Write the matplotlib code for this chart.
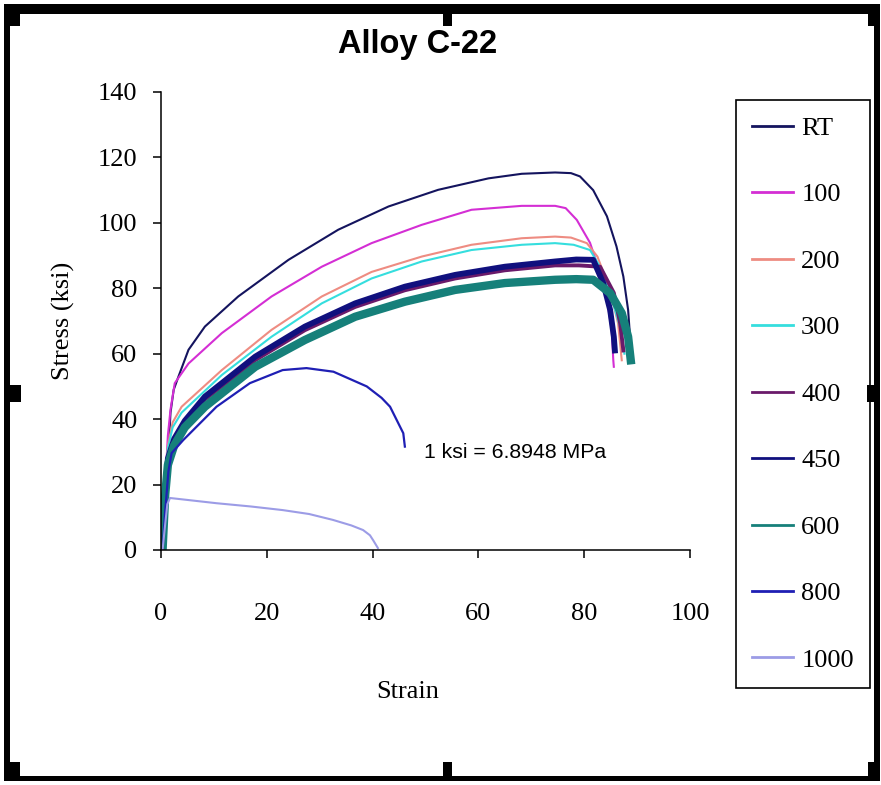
import matplotlib
matplotlib.use("Agg")
import matplotlib.pyplot as plt
from matplotlib.patches import Rectangle

# --- Data (strain %, stress ksi) ---
rt_strain = [0.5, 1.0, 1.4, 1.8, 2.4, 3.3, 5.2, 8.3, 14.6, 24.1, 33.5, 43.0, 52.4, 61.9, 68.2,
             74.5, 77.5, 79.2, 81.7, 84.3, 86.1, 87.4, 88.3, 88.8, 89.0]
rt_stress = [0, 15, 30, 42, 49, 53, 61.2, 68.3, 77.5, 88.7, 97.9, 105.0, 110.1, 113.6, 115.0,
             115.4, 115.2, 114.2, 110.0, 102.0, 92.8, 83.6, 73.4, 62.2, 58.0]

s100_strain = [0.3, 0.8, 1.3, 1.8, 2.6, 5.2, 11.5, 20.9, 30.4, 39.8, 49.3, 58.7, 68.2, 74.5,
               76.5, 78.6, 81.1, 83.0, 84.3, 85.2, 85.5, 85.6]
s100_stress = [0, 20, 35, 43, 51, 57, 66.3, 77.5, 86.6, 93.8, 99.4, 104.0, 105.2, 105.2,
               104.5, 100.9, 93.9, 84.7, 76.5, 67.3, 58.0, 56.0]

s200_strain = [0.3, 0.8, 1.3, 2.2, 3.9, 11.5, 20.9, 30.4, 39.8, 49.3, 58.7, 68.2, 74.5, 77.5,
               80.5, 82.5, 84.9, 86.4, 87.1]
s200_stress = [0, 20, 32, 39, 43.8, 55.0, 67.3, 77.5, 85.0, 89.7, 93.3, 95.3, 95.8, 95.5,
               93.8, 89.7, 79.5, 69.3, 58.0]

s300_strain = [0.3, 0.8, 1.3, 2.2, 3.9, 11.5, 20.9, 30.4, 39.8, 49.3, 58.7, 68.2, 74.5, 78.0,
               81.1, 83.0, 85.0, 86.8, 87.6]
s300_stress = [0, 20, 31, 37.5, 42.0, 53.5, 65.2, 75.4, 83.0, 88.2, 91.7, 93.3, 93.8, 93.3,
               91.7, 86.6, 78.0, 68.0, 60.0]

s400_strain = [0.3, 0.8, 1.3, 2.5, 4.5, 8.3, 17.8, 27.2, 36.7, 46.1, 55.6, 65.0, 74.5, 79.0,
               83.0, 85.6, 86.8, 87.4]
s400_stress = [0, 18, 27, 33, 38.5, 46.0, 58.0, 67.2, 74.3, 79.4, 83.0, 85.5, 87.0, 87.0,
               86.6, 78.6, 69.3, 61.0]

s450_strain = [0.3, 0.8, 1.3, 2.5, 4.5, 8.3, 17.8, 27.2, 36.7, 46.1, 55.6, 65.0, 74.5, 78.5,
               81.7, 83.6, 84.9, 85.6, 85.8]
s450_stress = [0, 18, 28, 34, 39.5, 46.9, 59.1, 68.3, 75.4, 80.5, 84.1, 86.6, 88.2, 88.8,
               88.7, 81.6, 73.4, 65.2, 61.0]

s600_strain = [0.3, 0.8, 1.3, 2.5, 4.5, 8.3, 17.8, 27.2, 36.7, 46.1, 55.6, 65.0, 74.5, 78.5,
               81.7, 84.9, 87.1, 88.3, 88.8]
s600_stress = [0, 17, 26, 32, 37.5, 43.8, 56.0, 64.2, 71.3, 75.9, 79.5, 81.6, 82.6, 82.8,
               82.6, 78.5, 72.4, 65.2, 58.0]

s800_strain = [0.3, 0.8, 1.4, 2.0, 4.2, 10.5, 16.8, 23.0, 27.5, 32.6, 38.9, 41.7, 43.3, 45.8, 46.1]
s800_stress = [0, 12, 24, 29.6, 33.6, 43.8, 51.0, 55.0, 55.6, 54.5, 50.0, 46.5, 43.8, 35.7, 31.6]

s1000_strain = [0.3, 0.8, 1.2, 1.7, 5.0, 10.5, 17.0, 23.0, 28.0, 32.5, 36.0, 38.2, 39.5, 40.1, 41.0]
s1000_stress = [0, 8, 14, 15.9, 15.3, 14.3, 13.3, 12.2, 11.0, 9.2, 7.5, 6.1, 4.5, 3.0, 0.6]

labels = ["RT", "100", "200", "300", "400", "450", "600", "800", "1000"]
colors = ["#14145e", "#d42ed4", "#ee8c82", "#35dede", "#6a1a6a",
          "#10107e", "#16807a", "#1f1fb4", "#9c9ce6"]
widths = [1.5, 1.5, 1.5, 1.5, 2.8, 4.2, 6.0, 1.6, 1.5]

series = [(rt_strain, rt_stress), (s100_strain, s100_stress), (s200_strain, s200_stress),
          (s300_strain, s300_stress), (s400_strain, s400_stress), (s450_strain, s450_stress),
          (s600_strain, s600_stress), (s800_strain, s800_stress), (s1000_strain, s1000_stress)]

x_ticks = [0, 20, 40, 60, 80, 100]
y_ticks = [0, 20, 40, 60, 80, 100, 120, 140]

W, H = 881, 785
SERIF = "Liberation Serif"

fig = plt.figure(figsize=(W / 100, H / 100), dpi=100)
fig.patch.set_facecolor("white")

# axes placed to match the pixel box of the reference plot area
ax = fig.add_axes([161 / W, 1 - 550 / H, 529 / W, 458 / H])

for (xs, ys), lab, col, lw in zip(series, labels, colors, widths):
    ax.plot(xs, ys, color=col, linewidth=lw, label=lab)

ax.set_xlim(0, 100)
ax.set_ylim(0, 140)
ax.set_xticks(x_ticks)
ax.set_yticks(y_ticks)
ax.spines["top"].set_visible(False)
ax.spines["right"].set_visible(False)
for side in ("left", "bottom"):
    ax.spines[side].set_linewidth(1.1)
ax.tick_params(axis="both", direction="out", length=6, width=1.1)
ax.tick_params(axis="y", pad=11)
ax.tick_params(axis="x", pad=32)
for lbl in ax.get_xticklabels() + ax.get_yticklabels():
    lbl.set_fontfamily(SERIF)
    lbl.set_fontsize(19)

ax.set_xlabel("Strain", fontfamily=SERIF, fontsize=19, va="center")
ax.xaxis.set_label_coords((408 - 161) / 529, (550 - 692) / 458)
ax.set_ylabel("Stress (ksi)", fontfamily=SERIF, fontsize=19, va="center")
ax.yaxis.set_label_coords((63 - 161) / 529, 0.5)

ax.text((515 - 161) / 529, (550 - 453) / 458, "1 ksi = 6.8948 MPa",
        transform=ax.transAxes, ha="center", va="center",
        fontfamily="Liberation Sans", fontsize=15.3)

fig.text(418 / W, 1 - 45 / H, "Alloy C-22", ha="center", va="center",
         fontfamily="Liberation Sans", fontweight="bold", fontsize=23.5)

leg = ax.legend(loc="upper left", bbox_to_anchor=(736 / W, 1 - 100 / H),
                bbox_transform=fig.transFigure, borderaxespad=0,
                prop={"family": SERIF, "size": 19}, frameon=True, fancybox=False,
                framealpha=1, edgecolor="black", handlelength=1.55,
                handletextpad=0.3, labelspacing=1.63, borderpad=0.62)
leg.get_frame().set_linewidth(1.2)
for h in leg.legend_handles:
    h.set_linewidth(2)


# --- picture frame with selection handles ---
def px_rect(x0, y0, x1, y1):
    fig.add_artist(Rectangle((x0 / W, 1 - y1 / H), (x1 - x0) / W, (y1 - y0) / H,
                             transform=fig.transFigure, facecolor="black",
                             edgecolor="none", zorder=10))


px_rect(4, 4, 880, 14)
px_rect(4, 4, 10, 781)
px_rect(874, 4, 880, 781)
px_rect(4, 776, 880, 781)
for hx0, hx1 in ((10, 20), (443, 452), (868, 877)):
    px_rect(hx0, 14, hx1, 26)
    px_rect(hx0, 762, hx1, 776)
px_rect(10, 385, 21, 402)
px_rect(867, 385, 877, 402)

fig.savefig("out.png", dpi=100)
